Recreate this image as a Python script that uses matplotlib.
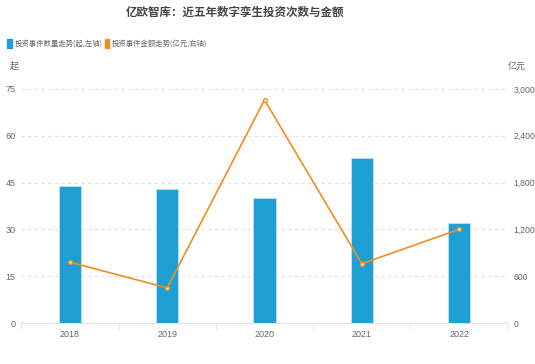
import matplotlib
matplotlib.use("Agg")
import matplotlib.pyplot as plt
import numpy as np
from matplotlib.patches import Rectangle

plt.rcParams['font.family'] = ['Noto Sans CJK SC', 'DejaVu Sans']

years = ["2018", "2019", "2020", "2021", "2022"]
counts = [44, 43, 40, 53, 32]
amounts = [780, 450, 2860, 760, 1200]
left_ticks = [0, 15, 30, 45, 60, 75]
right_ticks = [0, 600, 1200, 1800, 2400, 3000]
title = "亿欧智库：近五年数字孪生投资次数与金额"
legend_labels = ["投资事件数量走势(起,左轴)", "投资事件金额走势(亿元,右轴)"]

bar_color = "#1E9FD3"
line_color = "#F28E1C"
text_color = "#666666"
grid_color = "#DDE0E6"
num_font = ['Liberation Sans', 'DejaVu Sans']

fig = plt.figure(figsize=(5.35, 3.64), dpi=100)
ax = fig.add_axes([0.0398, 0.1126, 0.9092, 0.643])
ax2 = ax.twinx()

x = np.arange(len(years))
ax.bar(x, counts, width=0.23, color=bar_color, edgecolor="#BFE4F4", linewidth=0.6, zorder=2)
ax2.plot(x, amounts, color=line_color, lw=1.2, marker='o', ms=2.8,
         mfc="#FDE3C4", mec=line_color, mew=0.9, zorder=3)

ax.set_xlim(-0.5, len(years) - 0.5)
ax.set_ylim(0, 75)
ax2.set_ylim(0, 3000)
ax.set_yticks(left_ticks)
ax.set_yticklabels([str(v) for v in left_ticks], family=num_font)
ax2.set_yticks(right_ticks)
ax2.set_yticklabels([f"{v:,}" for v in right_ticks], family=num_font)
ax.set_xticks(x)
ax.set_xticklabels(years, family=num_font)
ax.set_xticks(np.arange(-0.5, len(years)), minor=True)

for a in (ax, ax2):
    for s in a.spines.values():
        s.set_visible(False)
ax.spines['bottom'].set_visible(True)
ax.spines['bottom'].set_color(grid_color)

ax.yaxis.grid(True, ls=(0, (3, 3)), color=grid_color, lw=0.8, zorder=0)
ax.set_axisbelow(True)
ax.tick_params(axis='y', length=0, labelsize=6.5, colors=text_color, pad=4)
ax2.tick_params(axis='y', length=0, labelsize=6.2, colors=text_color, pad=4)
ax.tick_params(axis='x', which='major', length=0, labelsize=6.5, colors=text_color, pad=5)
ax.tick_params(axis='x', which='minor', length=4, color=grid_color)

fig.text(0.439, 0.965, title, ha='center', va='center', fontsize=8.3,
         fontweight='bold', color="#444444")
fig.text(0.026, 0.818, "起", ha='center', va='center', fontsize=6.5, color=text_color)
fig.text(0.965, 0.818, "亿元", ha='center', va='center', fontsize=6.5, color=text_color)

# legend
fig.patches.append(Rectangle((0.014, 0.869), 0.008, 0.024, transform=fig.transFigure,
                             color=bar_color, figure=fig))
fig.text(0.027, 0.881, legend_labels[0], ha='left', va='center', fontsize=5.3, color=text_color)
fig.patches.append(Rectangle((0.196, 0.869), 0.008, 0.024, transform=fig.transFigure,
                             color=line_color, figure=fig))
fig.text(0.209, 0.881, legend_labels[1], ha='left', va='center', fontsize=5.3, color=text_color)

fig.savefig("out.png", dpi=100)
